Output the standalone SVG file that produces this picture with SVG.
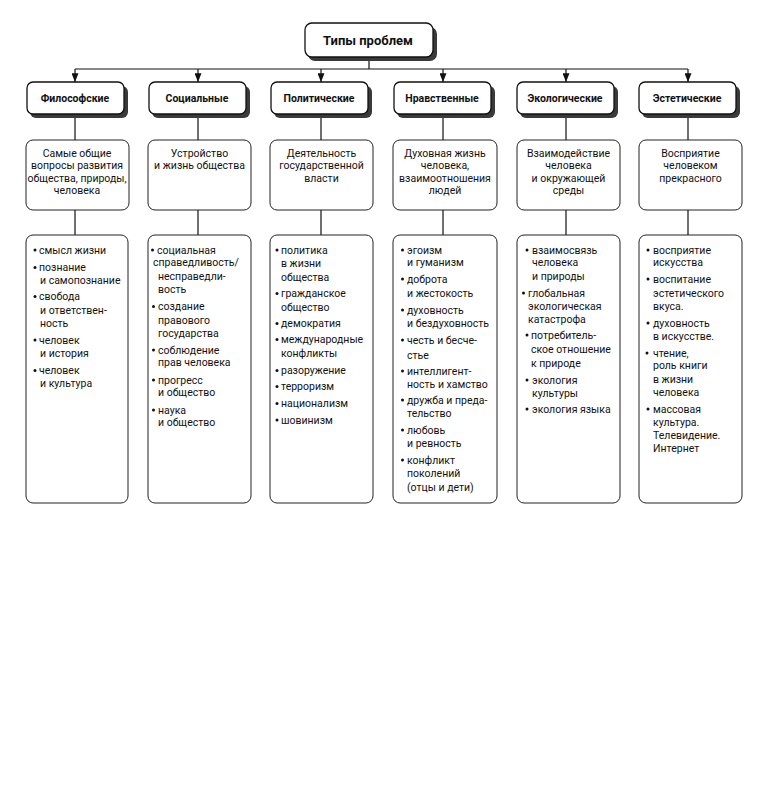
<svg xmlns="http://www.w3.org/2000/svg" width="768" height="792" viewBox="0 0 768 792">
<defs>
<style>
.bg{fill:#fff}
.shadow{fill:#3a3a3a}
.box{fill:#fff;stroke:#111;stroke-width:1.3}
.thin{fill:#fff;stroke:#222;stroke-width:1}
.ttl{font-family:Roboto,"Liberation Sans",sans-serif;font-weight:700;font-size:13px;fill:#111;text-anchor:middle}
.cat{font-family:Roboto,"Liberation Sans",sans-serif;font-weight:700;font-size:10.5px;fill:#111;text-anchor:middle}
.desc{font-family:Roboto,"Liberation Sans",sans-serif;font-size:10.5px;fill:#111;text-anchor:middle}
.li{font-family:Roboto,"Liberation Sans",sans-serif;font-size:10.5px;fill:#111}
.bul{fill:#111}
.ln{fill:none;stroke:#111;stroke-width:1.2}
</style>
<marker id="ah" viewBox="0 0 10 8" refX="10" refY="4" markerWidth="9" markerHeight="7" markerUnits="userSpaceOnUse" orient="auto">
<path d="M0,0 L10,4 L0,8 Z" fill="#111"/>
</marker>
</defs>
<rect class="bg" x="0" y="0" width="768" height="792"/>

<g id="connectors">
<path class="ln" d="M369,57 V69 M75,69 H688"/>
<path class="ln" d="M75,69 V82" marker-end="url(#ah)"/>
<path class="ln" d="M198,69 V82" marker-end="url(#ah)"/>
<path class="ln" d="M321,69 V82" marker-end="url(#ah)"/>
<path class="ln" d="M443,69 V82" marker-end="url(#ah)"/>
<path class="ln" d="M566,69 V82" marker-end="url(#ah)"/>
<path class="ln" d="M688,69 V82" marker-end="url(#ah)"/>
<path class="ln" d="M75,116 V140 M198,116 V140 M321,116 V140 M443,116 V140 M566,116 V140 M688,116 V140"/>
<path class="ln" d="M75,210 V235 M198,210 V235 M321,210 V235 M443,210 V235 M566,210 V235 M688,210 V235"/>
</g>

<g id="root">
<rect class="shadow" x="308" y="27" width="129" height="34" rx="7"/>
<rect class="box" x="305" y="23" width="128" height="34" rx="7"/>
<text class="ttl" x="368" y="45">Типы проблем</text>
</g>

<g id="cat-phil">
<rect class="shadow" x="30" y="86" width="98" height="32" rx="6"/>
<rect class="box" x="27" y="82" width="97" height="32" rx="6"/>
<text class="cat" x="75" y="102">Философские</text>
</g>
<g id="cat-soc">
<rect class="shadow" x="152" y="86" width="98" height="32" rx="6"/>
<rect class="box" x="149" y="82" width="97" height="32" rx="6"/>
<text class="cat" x="197" y="102">Социальные</text>
</g>
<g id="cat-pol">
<rect class="shadow" x="274" y="86" width="98" height="32" rx="6"/>
<rect class="box" x="271" y="82" width="97" height="32" rx="6"/>
<text class="cat" x="319" y="102">Политические</text>
</g>
<g id="cat-mor">
<rect class="shadow" x="397" y="86" width="98" height="32" rx="6"/>
<rect class="box" x="394" y="82" width="97" height="32" rx="6"/>
<text class="cat" x="442" y="102">Нравственные</text>
</g>
<g id="cat-eco">
<rect class="shadow" x="520" y="86" width="98" height="32" rx="6"/>
<rect class="box" x="517" y="82" width="97" height="32" rx="6"/>
<text class="cat" x="565" y="102">Экологические</text>
</g>
<g id="cat-aes">
<rect class="shadow" x="642" y="86" width="98" height="32" rx="6"/>
<rect class="box" x="639" y="82" width="97" height="32" rx="6"/>
<text class="cat" x="687" y="102">Эстетические</text>
</g>

<g id="desc-phil">
<rect class="thin" x="26" y="140" width="103" height="70" rx="7"/>
<text class="desc"><tspan x="77" y="156.5">Самые общие</tspan><tspan x="77" y="169">вопросы развития</tspan><tspan x="77" y="181.5">общества, природы,</tspan><tspan x="77" y="194">человека</tspan></text>
</g>
<g id="desc-soc">
<rect class="thin" x="148" y="140" width="103" height="70" rx="7"/>
<text class="desc"><tspan x="199.5" y="156.5">Устройство</tspan><tspan x="199.5" y="169">и жизнь общества</tspan></text>
</g>
<g id="desc-pol">
<rect class="thin" x="270" y="140" width="103" height="70" rx="7"/>
<text class="desc"><tspan x="321.5" y="156.5">Деятельность</tspan><tspan x="321.5" y="169">государственной</tspan><tspan x="321.5" y="181.5">власти</tspan></text>
</g>
<g id="desc-mor">
<rect class="thin" x="393" y="140" width="104" height="70" rx="7"/>
<text class="desc"><tspan x="445" y="156.5">Духовная жизнь</tspan><tspan x="445" y="169">человека,</tspan><tspan x="445" y="181.5">взаимоотношения</tspan><tspan x="445" y="194">людей</tspan></text>
</g>
<g id="desc-eco">
<rect class="thin" x="517" y="140" width="103" height="70" rx="7"/>
<text class="desc"><tspan x="568.5" y="156.5">Взаимодействие</tspan><tspan x="568.5" y="169">человека</tspan><tspan x="568.5" y="181.5">и окружающей</tspan><tspan x="568.5" y="194">среды</tspan></text>
</g>
<g id="desc-aes">
<rect class="thin" x="639" y="140" width="103" height="70" rx="7"/>
<text class="desc"><tspan x="690.5" y="156.5">Восприятие</tspan><tspan x="690.5" y="169">человеком</tspan><tspan x="690.5" y="181.5">прекрасного</tspan></text>
</g>

<g id="list-phil">
<rect class="thin" x="26" y="235" width="102" height="268" rx="7"/>
<g class="bul"><circle cx="35" cy="250" r="1.5"/><circle cx="35" cy="267.5" r="1.5"/><circle cx="35" cy="296.5" r="1.5"/><circle cx="35" cy="340" r="1.5"/><circle cx="35" cy="370.5" r="1.5"/></g>
<text class="li"><tspan x="39" y="253.5">смысл жизни</tspan><tspan x="39" y="271">познание</tspan><tspan x="40" y="283.5">и самопознание</tspan><tspan x="39" y="300">свобода</tspan><tspan x="40" y="313.5">и ответствен-</tspan><tspan x="40" y="327">ность</tspan><tspan x="39" y="343.5">человек</tspan><tspan x="40" y="357">и история</tspan><tspan x="39" y="374">человек</tspan><tspan x="40" y="387">и культура</tspan></text>
</g>
<g id="list-soc">
<rect class="thin" x="148" y="235" width="103" height="268" rx="7"/>
<g class="bul"><circle cx="152.5" cy="250" r="1.5"/><circle cx="153.5" cy="306.5" r="1.5"/><circle cx="153.5" cy="350" r="1.5"/><circle cx="153.5" cy="380" r="1.5"/><circle cx="153.5" cy="410" r="1.5"/></g>
<text class="li"><tspan x="157" y="253.5">социальная</tspan><tspan x="153" y="266">справедливость/</tspan><tspan x="158" y="279.5">несправедли-</tspan><tspan x="158" y="292.5">вость</tspan><tspan x="158" y="310">создание</tspan><tspan x="158" y="323.5">правового</tspan><tspan x="158" y="337">государства</tspan><tspan x="158" y="353.5">соблюдение</tspan><tspan x="158" y="366">прав человека</tspan><tspan x="158" y="383.5">прогресс</tspan><tspan x="158" y="396">и общество</tspan><tspan x="158" y="413.5">наука</tspan><tspan x="158" y="426">и общество</tspan></text>
</g>
<g id="list-pol">
<rect class="thin" x="270" y="235" width="103" height="268" rx="7"/>
<g class="bul"><circle cx="277" cy="250" r="1.5"/><circle cx="277" cy="293.5" r="1.5"/><circle cx="277" cy="323.5" r="1.5"/><circle cx="277" cy="339.5" r="1.5"/><circle cx="277" cy="370.5" r="1.5"/><circle cx="277" cy="386.5" r="1.5"/><circle cx="277" cy="403.5" r="1.5"/><circle cx="277" cy="420" r="1.5"/></g>
<text class="li"><tspan x="281" y="253.5">политика</tspan><tspan x="281" y="266.5">в жизни</tspan><tspan x="281" y="280.5">общества</tspan><tspan x="281" y="297">гражданское</tspan><tspan x="281" y="310.5">общество</tspan><tspan x="281" y="327">демократия</tspan><tspan x="281" y="343">международные</tspan><tspan x="281" y="356.5">конфликты</tspan><tspan x="281" y="374">разоружение</tspan><tspan x="281" y="390">терроризм</tspan><tspan x="281" y="407">национализм</tspan><tspan x="281" y="423.5">шовинизм</tspan></text>
</g>
<g id="list-mor">
<rect class="thin" x="393" y="235" width="104" height="268" rx="7"/>
<g class="bul"><circle cx="402.5" cy="250" r="1.5"/><circle cx="402.5" cy="279" r="1.5"/><circle cx="402.5" cy="310" r="1.5"/><circle cx="402.5" cy="340" r="1.5"/><circle cx="402.5" cy="371" r="1.5"/><circle cx="402.5" cy="400" r="1.5"/><circle cx="402.5" cy="430" r="1.5"/><circle cx="402.5" cy="460" r="1.5"/></g>
<text class="li"><tspan x="407" y="253.5">эгоизм</tspan><tspan x="407" y="266">и гуманизм</tspan><tspan x="407" y="282.5">доброта</tspan><tspan x="407" y="296.5">и жестокость</tspan><tspan x="407" y="313.5">духовность</tspan><tspan x="407" y="326.5">и бездуховность</tspan><tspan x="407" y="343.5">честь и бесче-</tspan><tspan x="407" y="358.5">стье</tspan><tspan x="407" y="374.5">интеллигент-</tspan><tspan x="407" y="387.5">ность и хамство</tspan><tspan x="407" y="403.5">дружба и преда-</tspan><tspan x="407" y="416.5">тельство</tspan><tspan x="407" y="433.5">любовь</tspan><tspan x="407" y="446.5">и ревность</tspan><tspan x="407" y="463.5">конфликт</tspan><tspan x="407" y="476.5">поколений</tspan><tspan x="407" y="490.5">(отцы и дети)</tspan></text>
</g>
<g id="list-eco">
<rect class="thin" x="517" y="235" width="103" height="268" rx="7"/>
<g class="bul"><circle cx="527" cy="250" r="1.5"/><circle cx="523.5" cy="293" r="1.5"/><circle cx="527" cy="335" r="1.5"/><circle cx="527" cy="380" r="1.5"/><circle cx="527" cy="409" r="1.5"/></g>
<text class="li"><tspan x="532" y="253.5">взаимосвязь</tspan><tspan x="532" y="265.5">человека</tspan><tspan x="532" y="279.5">и природы</tspan><tspan x="528" y="296.5">глобальная</tspan><tspan x="528" y="309.5">экологическая</tspan><tspan x="528" y="322.5">катастрофа</tspan><tspan x="531" y="338.5">потребитель-</tspan><tspan x="531" y="352.5">ское отношение</tspan><tspan x="531" y="366.5">к природе</tspan><tspan x="532" y="383.5">экология</tspan><tspan x="532" y="396.5">культуры</tspan><tspan x="532" y="412.5">экология языка</tspan></text>
</g>
<g id="list-aes">
<rect class="thin" x="639" y="235" width="103" height="268" rx="7"/>
<g class="bul"><circle cx="648" cy="250" r="1.5"/><circle cx="648" cy="279" r="1.5"/><circle cx="648" cy="323" r="1.5"/><circle cx="647" cy="353" r="1.5"/><circle cx="648" cy="409" r="1.5"/></g>
<text class="li"><tspan x="653" y="253.5">восприятие</tspan><tspan x="653" y="265.5">искусства</tspan><tspan x="653" y="282.5">воспитание</tspan><tspan x="653" y="296.5">эстетического</tspan><tspan x="653" y="309.5">вкуса.</tspan><tspan x="653" y="326.5">духовность</tspan><tspan x="653" y="339.5">в искусстве.</tspan><tspan x="653" y="356.5">чтение,</tspan><tspan x="653" y="368.5">роль книги</tspan><tspan x="653" y="382.5">в жизни</tspan><tspan x="653" y="395.5">человека</tspan><tspan x="653" y="412.5">массовая</tspan><tspan x="653" y="425.5">культура.</tspan><tspan x="653" y="438.5">Телевидение.</tspan><tspan x="653" y="451.5">Интернет</tspan></text>
</g>
</svg>
